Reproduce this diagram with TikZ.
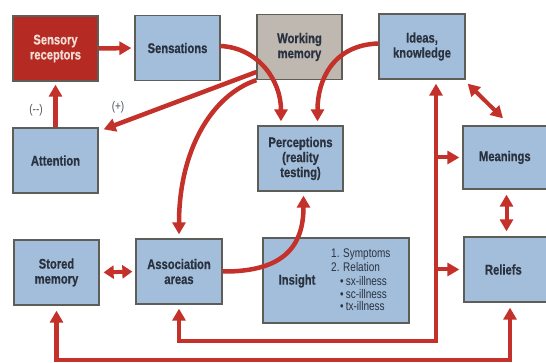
\documentclass[tikz,border=0pt]{standalone}
\usepackage{fontspec}
\setmainfont{Liberation Sans}
\newfontfamily\boxfont{Liberation Sans}[FakeStretch=0.8,BoldFeatures={FakeBold=0.6}]
\usetikzlibrary{arrows.meta,calc}
\definecolor{boxfill}{HTML}{A3BEDA}
\definecolor{boxline}{HTML}{5F5D57}
\definecolor{redc}{HTML}{C4302A}
\definecolor{recfill}{HTML}{B52A22}
\definecolor{wmfill}{HTML}{BEB8B1}
\definecolor{textc}{HTML}{2A3240}
\definecolor{rectext}{HTML}{F2DCD6}
\tikzset{
  box/.style={draw=boxline, line width=1.3pt, fill=boxfill, minimum width=85pt, minimum height=65pt,
    inner sep=0pt, align=center, text=textc, font=\boxfont\bfseries\fontsize{14}{15}\selectfont},
  arr/.style={draw=redc, line width=4.5pt, -{Triangle[length=12pt,width=13pt]}, shorten >=4pt},
  arrboth/.style={draw=redc, line width=4.5pt, {Triangle[length=12pt,width=13pt]}-{Triangle[length=12pt,width=13pt]}, shorten >=4pt, shorten <=4pt},
  sign/.style={text=textc!85, font=\boxfont\fontsize{12.5}{14}\selectfont},
  listtxt/.style={text=textc, font=\boxfont\fontsize{12.5}{13.8}\selectfont, align=left, inner sep=0pt, anchor=north west}
}
\begin{document}
\begin{tikzpicture}[x=1pt,y=-1pt]
\useasboundingbox (0,0) rectangle (546,363);
\fill[white] (0,0) rectangle (546,363);
\clip (0,0) rectangle (546,363);
% boxes
\node[box, fill=recfill, text=rectext] (rec) at (55.5,48.5) {Sensory\\receptors};
\node[box] (sens) at (177.5,48) {Sensations};
\node[box, fill=wmfill] (wm) at (299.5,47) {Working\\memory};
\node[box, minimum width=86pt] (ideas) at (422,46.5) {Ideas,\\knowledge};
\node[box] (att) at (55.5,160.5) {Attention};
\node[box] (perc) at (300.5,158.5) {Perceptions\\(reality\\testing)};
\node[box, minimum width=95pt, minimum height=63pt, text width=87pt, align=left] (mean) at (510.5,157.5) {\hspace{12pt}Meanings};
\node[box] (stored) at (56.5,272.5) {Stored\\memory};
\node[box, minimum width=86pt] (assoc) at (179,271.5) {Association\\areas};
\node[box, minimum width=146pt, minimum height=85pt] (insight) at (336,280.5) {};
\node[box, minimum width=95pt, text width=87pt, align=left] (rel) at (511.5,269.5) {\hspace{17pt}Reliefs};
\node[text=textc, font=\boxfont\bfseries\fontsize{14}{15}\selectfont, anchor=center] (ins) at (297,281) {Insight};
\node[listtxt] (list) at (331,249) {1. Symptoms\\2. Relation\\\hspace{9pt}\textbullet\,sx-illness\\[-1pt]\hspace{9pt}\textbullet\,sc-illness\\[-1.5pt]\hspace{9pt}\textbullet\,tx-illness};
% sign labels
\node[sign] (minus) at (36,110) {(--)};
\node[sign] (plus) at (118,107) {(+)};
% coordinates
\coordinate (b1) at (436,341);
\coordinate (c1) at (510,360);
% connectors
\draw[arr, shorten >=3pt] (rec.east) -- (sens.west);
\draw[arr, shorten >=3pt] (att.north) -- (rec.south);
\draw[arr, shorten >=0pt] ([yshift=-25pt]wm.west) -- ([xshift=5pt,yshift=-2pt]att.north east);
\draw[arr] (wm.south west) .. controls (212,95) and (179,150) .. (assoc.north);
\draw[arr] ([yshift=2pt]sens.east) .. controls (258,48) and (281,80) .. ([xshift=-19.5pt]perc.north);
\draw[arr] ([yshift=3pt]ideas.west) .. controls (333,45) and (317.5,80) .. ([xshift=17pt]perc.north);
\draw[arr] (assoc.east) .. controls (285,272) and (303.5,245) .. ([xshift=3pt]perc.south);
\draw[arrboth] ([xshift=14pt]ideas.south) -- (b1) -| (assoc.south);
\draw[arr, shorten >=3pt, line width=4pt] (mean.west -| b1) -- (mean.west);
\draw[arr, shorten >=4pt, line width=4pt] (rel.west -| b1) -- (rel.west);
\draw[arrboth, shorten <=5pt, shorten >=5pt] (stored.south) |- (c1) -- (c1 |- rel.south);
\draw[arrboth, line width=4pt, shorten <=4pt, shorten >=3pt, {Triangle[length=10pt,width=13pt]}-{Triangle[length=10pt,width=13pt]}] (stored.east) -- (assoc.west);
\draw[arrboth, line width=4pt, shorten <=0pt, shorten >=0pt] ([xshift=2pt,yshift=-4pt]ideas.south east) -- ([xshift=-7.5pt,yshift=7pt]mean.north);
\draw[arrboth, line width=4pt, shorten <=5pt, shorten >=5pt] ($(mean.south)+(-4,0)$) -- ($(rel.north)+(-5,0)$);
\end{tikzpicture}
\end{document}
